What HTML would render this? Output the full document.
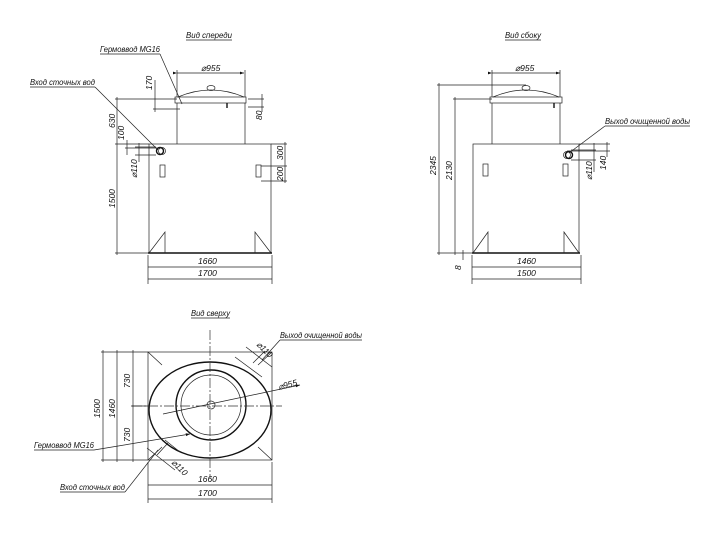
<!DOCTYPE html>
<html><head><meta charset="utf-8"><style>
html,body{margin:0;padding:0;background:#fff;}
svg{display:block;}
text{font-family:"Liberation Sans",sans-serif;font-style:italic;font-size:8.5px;fill:#111;}
.l{stroke:#222;stroke-width:0.7;fill:none;}
.t{stroke:#111;stroke-width:1.4;fill:none;}
.c{stroke:#333;stroke-width:0.7;fill:none;stroke-dasharray:10 2 2 2;}
</style></head><body>
<svg width="720" height="534" viewBox="0 0 720 534" xmlns="http://www.w3.org/2000/svg">
<defs>
<marker id="a" viewBox="0 0 6 6" refX="6" refY="3" markerWidth="6" markerHeight="6" orient="auto"><path d="M0,1 L6,3 L0,5z" fill="#111"/></marker>
</defs>
<!-- ===== FRONT VIEW ===== -->
<text x="186" y="38" textLength="46" lengthAdjust="spacingAndGlyphs">Вид спереди</text><line class="l" x1="186" y1="40" x2="232" y2="40"/>
<rect class="l" x="149" y="144" width="122" height="109"/>
<line class="t" x1="148" y1="253" x2="272" y2="253"/>
<path class="l" d="M149,253 L165,232 L165,253 M271,253 L255,232 L255,253"/>
<path class="l" d="M177,103 V144 M245,103 V144"/>
<rect class="l" x="175" y="97" width="71" height="6"/>
<path class="l" d="M178,97 Q211,83 244,97"/>
<ellipse class="l" cx="211" cy="88" rx="4" ry="2.5"/>
<line class="t" x1="227" y1="103" x2="227" y2="108"/>
<circle class="t" cx="160" cy="151" r="3.5"/><circle class="l" cx="162" cy="151" r="3.5"/>
<rect class="l" x="160" y="165" width="5" height="12"/><rect class="l" x="256" y="165" width="5" height="12"/>
<line class="l" x1="177" y1="73" x2="244" y2="73" marker-start="url(#a)" marker-end="url(#a)"/>
<path class="l" d="M177,70 V97 M245,70 V97"/>
<text x="201" y="71">⌀955</text>
<path class="l" d="M115,99 H177 M115,144 H149 M115,253 H149 M117,97 V255"/>
<text transform="translate(115,128) rotate(-90)">630</text>
<text transform="translate(115,208) rotate(-90)">1500</text>
<path class="l" d="M153,109 H180 M155,80 V112"/>
<text transform="translate(152,90) rotate(-90)">170</text>
<path class="l" d="M125,148 H160 M127,140 V155"/>
<text transform="translate(124,140) rotate(-90)">100</text>
<path class="l" d="M135,147 H156 M135,155 H156 M139,143 V162"/>
<text transform="translate(137,178) rotate(-90)">⌀110</text>
<path class="l" d="M248,99 H264 M248,107 H264 M262,94 V112"/>
<text transform="translate(262,120) rotate(-90)">80</text>
<path class="l" d="M271,144 H287 M261,166 H287 M261,181 H287 M285,142 V183"/>
<text transform="translate(283,160) rotate(-90)">300</text>
<text transform="translate(283,181) rotate(-90)">200</text>
<path class="l" d="M148,255 V284 M272,255 V284"/>
<line class="l" x1="148" y1="267" x2="272" y2="267"/><line class="l" x1="148" y1="279" x2="272" y2="279"/>
<text x="198" y="264">1660</text><text x="198" y="276">1700</text>
<text x="100" y="52" textLength="60" lengthAdjust="spacingAndGlyphs">Гермоввод MG16</text><line class="l" x1="100" y1="54" x2="160" y2="54"/>
<line class="l" x1="160" y1="54" x2="182" y2="104"/>
<text x="30" y="85" textLength="65" lengthAdjust="spacingAndGlyphs">Вход сточных вод</text><line class="l" x1="30" y1="87" x2="95" y2="87"/>
<line class="l" x1="95" y1="87" x2="158" y2="150"/>
<!-- ===== SIDE VIEW ===== -->
<text x="505" y="38" textLength="36" lengthAdjust="spacingAndGlyphs">Вид сбоку</text><line class="l" x1="505" y1="40" x2="541" y2="40"/>
<rect class="l" x="473" y="144" width="106" height="109"/>
<line class="t" x1="472" y1="253" x2="580" y2="253"/>
<path class="l" d="M473,253 L488,232 L488,253 M579,253 L564,232 L564,253"/>
<path class="l" d="M492,103 V144 M560,103 V144"/>
<rect class="l" x="490" y="97" width="72" height="6"/>
<path class="l" d="M493,97 Q526,83 559,97"/>
<ellipse class="l" cx="526" cy="88" rx="4" ry="2.5"/>
<line class="t" x1="554" y1="103" x2="554" y2="108"/>
<circle class="l" cx="567" cy="155" r="3.5"/><circle class="t" cx="569" cy="155" r="3.5"/>
<rect class="l" x="483" y="164" width="5" height="12"/><rect class="l" x="563" y="164" width="5" height="12"/>
<line class="l" x1="492" y1="73" x2="560" y2="73" marker-start="url(#a)" marker-end="url(#a)"/>
<path class="l" d="M492,70 V97 M560,70 V97"/>
<text x="515" y="71">⌀955</text>
<path class="l" d="M437,85 H526 M453,99 H492 M437,253 H473 M439,83 V255 M455,97 V255 M463,250 V260"/>
<text transform="translate(436,175) rotate(-90)">2345</text>
<text transform="translate(452,180) rotate(-90)">2130</text>
<text transform="translate(461,270) rotate(-90)">8</text>
<path class="l" d="M579,144 H610 M567,151 H610 M607,142 V157 M571,150 H596 M571,160 H596 M594,143 V172"/>
<text transform="translate(606,170) rotate(-90)">140</text>
<text transform="translate(592,180) rotate(-90)">⌀110</text>
<text x="605" y="124" textLength="85" lengthAdjust="spacingAndGlyphs">Выход очищенной воды</text><line class="l" x1="605" y1="126" x2="690" y2="126"/>
<line class="l" x1="605" y1="126" x2="569" y2="153"/>
<path class="l" d="M472,255 V284 M581,255 V284"/>
<line class="l" x1="472" y1="267" x2="581" y2="267"/><line class="l" x1="472" y1="279" x2="581" y2="279"/>
<text x="517" y="264">1460</text><text x="517" y="276">1500</text>
<!-- ===== TOP VIEW ===== -->
<text x="191" y="316" textLength="39" lengthAdjust="spacingAndGlyphs">Вид сверху</text><line class="l" x1="191" y1="318" x2="230" y2="318"/>
<rect class="l" x="148" y="352" width="124" height="108"/>
<path class="l" d="M148,352 L162,365 M272,352 L258,365 M148,460 L162,447 M272,460 L258,447"/>
<ellipse class="t" cx="210" cy="410" rx="61" ry="48"/>
<circle class="t" cx="211" cy="405" r="35"/>
<circle class="l" cx="211" cy="405" r="30"/>
<circle class="l" cx="211" cy="405" r="4"/>
<line class="c" x1="210" y1="330" x2="210" y2="478"/>
<line class="c" x1="132" y1="406" x2="282" y2="406"/>
<line class="l" x1="163" y1="414" x2="300" y2="385" marker-end="url(#a)"/>
<text transform="translate(279,390) rotate(-15)">⌀955</text>
<path class="l" d="M235,357 L262,377 M246,347 L272,367 M253,363 L265,351"/>
<text transform="translate(256,345) rotate(45)">⌀110</text>
<text x="280" y="338" textLength="82" lengthAdjust="spacingAndGlyphs">Выход очищенной воды</text><line class="l" x1="280" y1="340" x2="362" y2="340"/>
<line class="l" x1="280" y1="340" x2="262" y2="360"/>
<path class="l" d="M147,448 L175,470 M157,455 L168,443 M165,440 L180,452"/>
<text transform="translate(171,463) rotate(45)">⌀110</text>
<text x="34" y="448" textLength="60" lengthAdjust="spacingAndGlyphs">Гермоввод MG16</text><line class="l" x1="34" y1="450" x2="94" y2="450"/>
<line class="l" x1="94" y1="450" x2="190" y2="434" marker-end="url(#a)"/>
<text x="60" y="490" textLength="65" lengthAdjust="spacingAndGlyphs">Вход сточных вод</text><line class="l" x1="60" y1="492" x2="125" y2="492"/>
<line class="l" x1="125" y1="492" x2="158" y2="450"/>
<path class="l" d="M101,352 H148 M101,460 H148 M103,350 V462 M117,350 V462 M131,406 H148 M133,350 V462"/>
<text transform="translate(100,418) rotate(-90)">1500</text>
<text transform="translate(115,418) rotate(-90)">1460</text>
<text transform="translate(130,388) rotate(-90)">730</text>
<text transform="translate(130,442) rotate(-90)">730</text>
<path class="l" d="M148,462 V503 M272,462 V503"/>
<line class="l" x1="148" y1="485" x2="272" y2="485"/><line class="l" x1="148" y1="499" x2="272" y2="499"/>
<text x="198" y="482">1660</text><text x="198" y="496">1700</text>
</svg>
</body></html>
